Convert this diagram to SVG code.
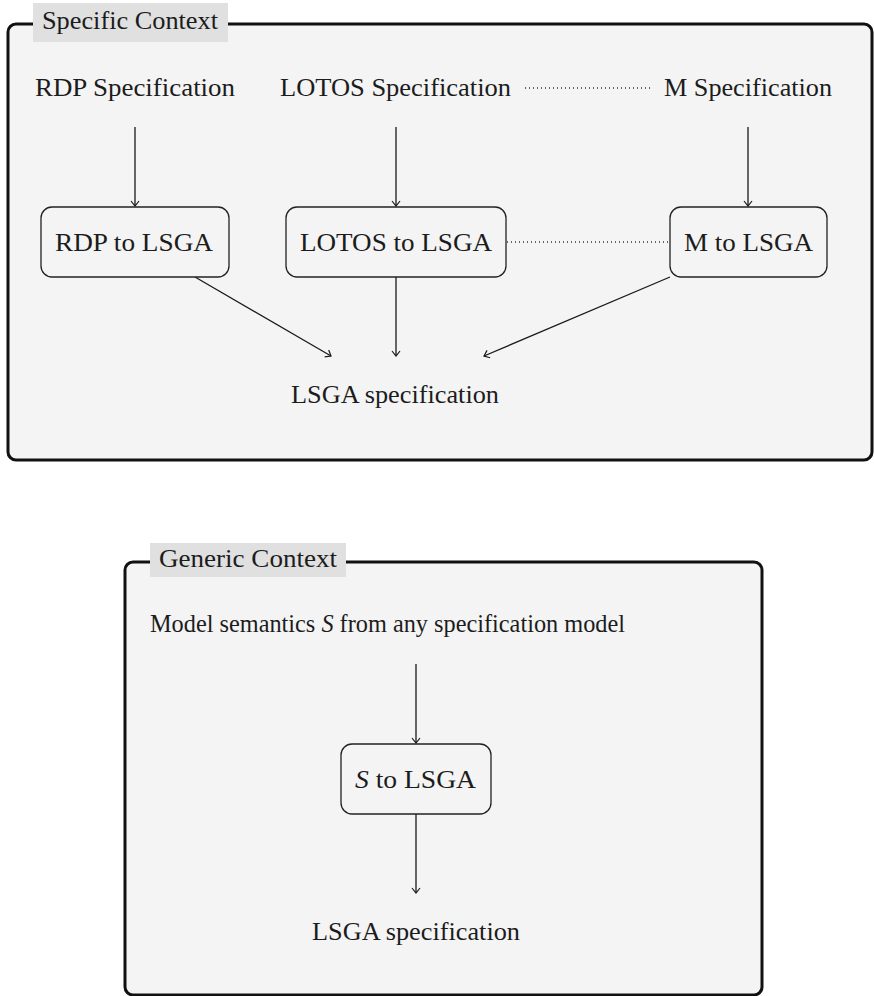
<svg xmlns="http://www.w3.org/2000/svg" width="874" height="996" viewBox="0 0 874 996">
  <style>
    .frame { fill: #f4f4f4; stroke: #111; stroke-width: 3; }
    .tag { fill: #e0e0e0; stroke: none; }
    .box { fill: #f4f4f4; stroke: #222; stroke-width: 1.3; }
    text { font-family: 'Liberation Serif', 'DejaVu Serif', 'Times New Roman', Times, serif; font-size: 25px; fill: #1c1c1c; }
    .edge { fill: none; stroke: #1a1a1a; stroke-width: 1.3; }
    .dots { fill: none; stroke: #333; stroke-width: 1.3; stroke-dasharray: 1 3; }
  </style>
  <defs>
    <marker id="to" viewBox="-6 -5 8 10" markerWidth="8" markerHeight="10" refX="0" refY="0" orient="auto" markerUnits="userSpaceOnUse">
      <path d="M-5,-4 Q-1,-0.8 0,0 Q-1,0.8 -5,4" fill="none" stroke="#1a1a1a" stroke-width="1.2"/>
    </marker>
  </defs>

  <!-- Specific context frame -->
  <g id="specific-context">
    <rect class="frame" x="8" y="24" width="864" height="436" rx="8"/>
    <rect class="tag" x="33" y="3" width="195" height="39"/>
    <text x="42" y="29" textLength="176" lengthAdjust="spacingAndGlyphs">Specific Context</text>
  </g>

  <!-- Generic context frame -->
  <g id="generic-context">
    <rect class="frame" x="125" y="562" width="637" height="433" rx="8"/>
    <rect class="tag" x="150" y="543" width="196" height="34"/>
    <text x="159" y="567" textLength="178" lengthAdjust="spacingAndGlyphs">Generic Context</text>
  </g>

  <!-- connectors -->
  <g id="connectors">
    <line class="edge" x1="135" y1="127" x2="135" y2="206" marker-end="url(#to)"/>
    <line class="edge" x1="396" y1="127" x2="396" y2="206" marker-end="url(#to)"/>
    <line class="edge" x1="748" y1="127" x2="748" y2="206" marker-end="url(#to)"/>
    <line class="edge" x1="195" y1="277" x2="331" y2="356" marker-end="url(#to)"/>
    <line class="edge" x1="396" y1="277" x2="396" y2="356" marker-end="url(#to)"/>
    <line class="edge" x1="670" y1="277" x2="484" y2="356" marker-end="url(#to)"/>
    <line class="dots" x1="525" y1="88" x2="652" y2="88"/>
    <line class="dots" x1="507" y1="242" x2="670" y2="242"/>
    <line class="edge" x1="416" y1="664" x2="416" y2="743" marker-end="url(#to)"/>
    <line class="edge" x1="416" y1="814" x2="416" y2="893" marker-end="url(#to)"/>
  </g>

  <!-- specific context nodes -->
  <g id="rdp-spec">
    <text x="35" y="96" textLength="200" lengthAdjust="spacingAndGlyphs">RDP Specification</text>
  </g>
  <g id="lotos-spec">
    <text x="280" y="96" textLength="231" lengthAdjust="spacingAndGlyphs">LOTOS Specification</text>
  </g>
  <g id="m-spec">
    <text x="664" y="96" textLength="168" lengthAdjust="spacingAndGlyphs">M Specification</text>
  </g>
  <g id="rdp-to-lsga">
    <rect class="box" x="41" y="207" width="188" height="70" rx="11"/>
    <text x="55" y="251" textLength="158" lengthAdjust="spacingAndGlyphs">RDP to LSGA</text>
  </g>
  <g id="lotos-to-lsga">
    <rect class="box" x="286" y="207" width="220" height="70" rx="11"/>
    <text x="300" y="251" textLength="192" lengthAdjust="spacingAndGlyphs">LOTOS to LSGA</text>
  </g>
  <g id="m-to-lsga">
    <rect class="box" x="670" y="207" width="157" height="70" rx="11"/>
    <text x="684" y="251" textLength="129" lengthAdjust="spacingAndGlyphs">M to LSGA</text>
  </g>
  <g id="lsga-spec-1">
    <text x="291" y="403" textLength="208" lengthAdjust="spacingAndGlyphs">LSGA specification</text>
  </g>

  <!-- generic context nodes -->
  <g id="model-semantics">
    <text x="150" y="632" textLength="475" lengthAdjust="spacingAndGlyphs">Model semantics <tspan font-style="italic">S</tspan> from any specification model</text>
  </g>
  <g id="s-to-lsga">
    <rect class="box" x="341" y="744" width="150" height="70" rx="11"/>
    <text x="355" y="788" textLength="121" lengthAdjust="spacingAndGlyphs"><tspan font-style="italic">S</tspan> to LSGA</text>
  </g>
  <g id="lsga-spec-2">
    <text x="312" y="940" textLength="208" lengthAdjust="spacingAndGlyphs">LSGA specification</text>
  </g>
</svg>
